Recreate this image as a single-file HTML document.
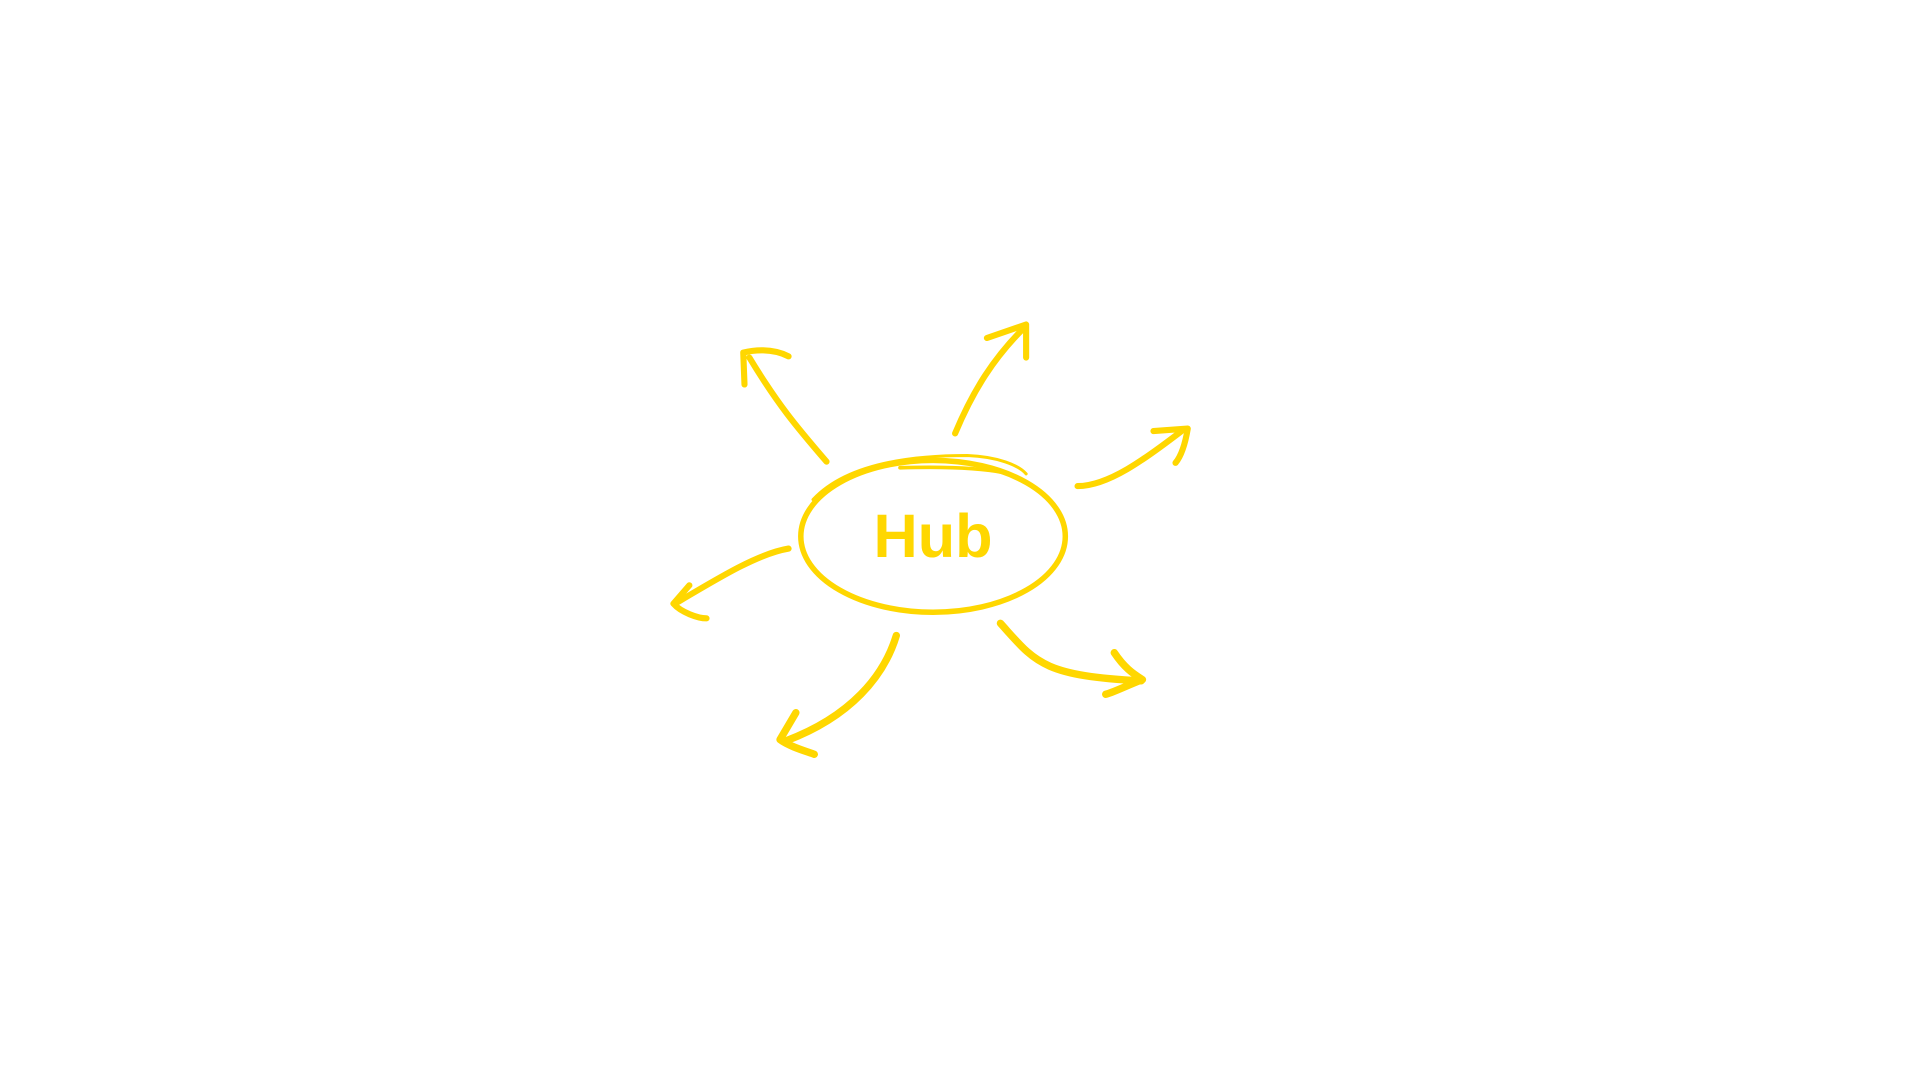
<!DOCTYPE html>
<html><head><style>html,body{margin:0;padding:0;background:#fff;width:1920px;height:1080px;overflow:hidden}</style></head>
<body>
<svg width="1920" height="1080" viewBox="0 0 1568 882" xmlns="http://www.w3.org/2000/svg">
<g fill="none" stroke="#FFD700" stroke-linecap="round" stroke-linejoin="round">
<ellipse cx="762" cy="438" rx="108" ry="62" stroke-width="4.5"/>
<path d="M735 382 C770 381 800 382 820 386" stroke-width="3"/>
<path d="M664 408 C690 380 740 372 790 372 C815 373 832 380 838 387" stroke-width="2.5"/>
<path d="M675 377 C650 348 635 330 612 292" stroke-width="5"/>
<path d="M644 291 C630 284 615 286 607 288 L608 314" stroke-width="5"/>
<path d="M780 354 C795 318 812 292 836 268" stroke-width="5"/>
<path d="M806 276 L838 265 L838 292" stroke-width="5"/>
<path d="M880 397 C905 397 935 375 965 352" stroke-width="5"/>
<path d="M942 352 L970 350 C968 362 965 372 960 378" stroke-width="5"/>
<path d="M644 448 C620 452 590 470 553 492" stroke-width="5"/>
<path d="M563 478 L550 493 C556 500 570 505 577 505" stroke-width="5"/>
<path d="M732 519 C722 552 695 585 642 605" stroke-width="6"/>
<path d="M650 582 L637 604 C645 610 660 614 665 616" stroke-width="6"/>
<path d="M817 509 C845 540 850 552 932 556" stroke-width="6"/>
<path d="M910 533 C918 545 925 550 933 555 C920 560 908 566 903 567" stroke-width="6"/>
</g>
<text x="762" y="455" text-anchor="middle" font-family="Liberation Sans, sans-serif" font-weight="bold" font-size="50" fill="#FFD700">Hub</text>
</svg>
</body></html>
